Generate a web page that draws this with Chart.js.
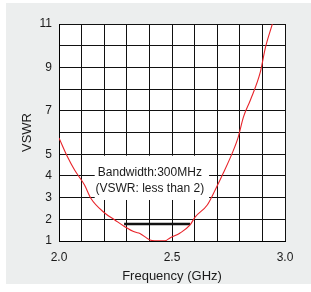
<!DOCTYPE html>
<html>
<head>
<meta charset="utf-8">
<script src="https://cdn.jsdelivr.net/npm/chart.js@4.4.1/dist/chart.umd.min.js"></script>
<style>
  html, body { margin: 0; padding: 0; background: #ffffff; }
  #c { display: block; }
</style>
</head>
<body>
<canvas id="c" width="311" height="292"></canvas>
<script>
// ---- data ----
const freqGHz = [2.0, 2.038, 2.069, 2.113, 2.14, 2.202, 2.247, 2.291, 2.336, 2.358, 2.402, 2.424, 2.469, 2.491, 2.536, 2.58, 2.602, 2.656, 2.691, 2.727, 2.767, 2.793, 2.816, 2.847, 2.891, 2.913, 2.944];
const vswr    = [5.75, 4.87, 4.27, 3.58, 2.98, 2.29, 1.97, 1.66, 1.41, 1.35, 1.05, 1.01, 1.01, 1.14, 1.37, 1.74, 2.1, 2.66, 3.35, 4.13, 5.06, 5.79, 6.71, 7.5, 8.79, 9.9, 11.0];

const bandFreq = [2.288, 2.58];
const bandVswr = [1.78, 1.78];

const xTickLabels = ['2.0', '2.5', '3.0'];
const yTickLabels = [1, 2, 3, 4, 5, 7, 9, 11];

const annotationLines = ['Bandwidth:300MHz', '(VSWR: less than 2)'];
const annotationCenterFreq = 2.402;
const annotationLineVswr = [4.13, 3.40];
const annotationBoxFreq = [2.158, 2.664];
const annotationBoxVswr = [2.89, 4.93];

const FONT = '"Liberation Sans", Arial, Helvetica, sans-serif';

const panelPlugin = {
  id: 'panel',
  beforeDraw(chart) {
    const ctx = chart.ctx;
    const a = chart.chartArea;
    ctx.save();
    ctx.fillStyle = '#eceeee';
    ctx.fillRect(6, 3, chart.width - 6, 281);
    ctx.fillStyle = '#ffffff';
    ctx.fillRect(a.left, a.top, a.right - a.left, a.bottom - a.top);
    ctx.restore();
  }
};

const annotationPlugin = {
  id: 'annot',
  beforeDatasetsDraw(chart) {
    const ctx = chart.ctx;
    const xs = chart.scales.x, ys = chart.scales.y;
    const x0 = xs.getPixelForValue(annotationBoxFreq[0]);
    const x1 = xs.getPixelForValue(annotationBoxFreq[1]);
    const y0 = ys.getPixelForValue(annotationBoxVswr[1]);
    const y1 = ys.getPixelForValue(annotationBoxVswr[0]);
    ctx.save();
    ctx.fillStyle = '#ffffff';
    ctx.fillRect(x0, y0, x1 - x0, y1 - y0);
    ctx.fillStyle = '#1a1a1a';
    ctx.font = '12px ' + FONT;
    ctx.textAlign = 'center';
    ctx.textBaseline = 'middle';
    const cx = xs.getPixelForValue(annotationCenterFreq);
    annotationLines.forEach((t, i) => {
      ctx.fillText(t, cx, ys.getPixelForValue(annotationLineVswr[i]));
    });
    ctx.restore();
  }
};

new Chart(document.getElementById('c'), {
  type: 'line',
  data: {
    datasets: [
      {
        data: freqGHz.map((f, i) => ({ x: f, y: vswr[i] })),
        borderColor: '#e8242a',
        borderWidth: 1.1,
        pointRadius: 0,
        cubicInterpolationMode: 'monotone',
        fill: false
      },
      {
        data: bandFreq.map((f, i) => ({ x: f, y: bandVswr[i] })),
        borderColor: '#111111',
        borderWidth: 2.5,
        pointRadius: 0,
        fill: false
      }
    ]
  },
  options: {
    responsive: false,
    animation: false,
    devicePixelRatio: 1,
    layout: { padding: { left: 0, right: 26, top: 24, bottom: 0 } },
    plugins: { legend: { display: false }, tooltip: { enabled: false } },
    scales: {
      x: {
        type: 'linear',
        min: 2.0,
        max: 3.0,
        afterFit(s) { s.height = 51; },
        grid: { color: '#111111', lineWidth: 1, drawTicks: false },
        border: { color: '#000000', width: 1 },
        ticks: {
          stepSize: 0.1,
          autoSkip: false,
          maxRotation: 0,
          padding: 9,
          color: '#1a1a1a',
          font: { family: FONT, size: 12 },
          callback(v) {
            const lbl = (Math.round(v * 10) / 10).toFixed(1);
            return xTickLabels.includes(lbl) ? lbl : '';
          }
        },
        title: {
          display: true,
          text: 'Frequency (GHz)',
          color: '#1a1a1a',
          font: { family: FONT, size: 13 },
          padding: { top: 0, bottom: 8 }
        }
      },
      y: {
        type: 'linear',
        min: 1,
        max: 11,
        afterFit(s) { s.width = 59; },
        grid: { color: '#111111', lineWidth: 1, drawTicks: false },
        border: { color: '#000000', width: 1 },
        ticks: {
          stepSize: 1,
          autoSkip: false,
          padding: 7,
          color: '#1a1a1a',
          font: { family: FONT, size: 12 },
          callback(v) {
            const r = Math.round(v);
            return yTickLabels.includes(r) ? String(r) : '';
          }
        },
        title: {
          display: true,
          text: 'VSWR',
          color: '#1a1a1a',
          font: { family: FONT, size: 13 },
          padding: { top: 20, bottom: 0 }
        }
      }
    }
  },
  plugins: [panelPlugin, annotationPlugin]
});
</script>
</body>
</html>
